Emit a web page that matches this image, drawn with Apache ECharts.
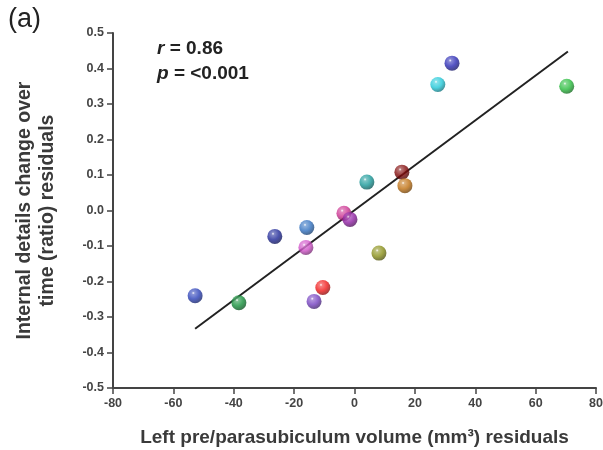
<!DOCTYPE html>
<html><head><meta charset="utf-8">
<script src="https://cdn.jsdelivr.net/npm/echarts@6/dist/echarts.min.js"></script>
<style>html,body{margin:0;padding:0;background:#fff}#c{width:603px;height:450px}</style>
</head><body><div id="c"></div>
<script>
var xValues = [-52.8, -38.3, -26.4, -15.8, -16.1, -10.5, -13.4, -3.5, -1.5, 8.1, 4.1, 15.7, 16.7, 27.6, 32.3, 70.3];
var yValues = [-0.24, -0.26, -0.073, -0.048, -0.104, -0.217, -0.256, -0.008, -0.025, -0.12, 0.08, 0.108, 0.07, 0.355, 0.415, 0.35];
var pointColors = ['#2a40b8','#14903a','#1f2898','#3070c0','#d050c8','#f01818','#7440c0','#cc3090','#9020a4','#8a9018','#189898','#800808','#c07010','#20c8d8','#2a2ab4','#28bc3c'];
var fitX = [-52.8, 70.7];
var fitY = [-0.333, 0.448];
var xTicks = [-80, -60, -40, -20, 0, 20, 40, 60, 80];
var yTicks = [-0.5, -0.4, -0.3, -0.2, -0.1, 0.0, 0.1, 0.2, 0.3, 0.4, 0.5];

function lighten(hex, f){
  var n=parseInt(hex.slice(1),16),r=n>>16,g=(n>>8)&255,b=n&255;
  r=Math.round(r+(255-r)*f);g=Math.round(g+(255-g)*f);b=Math.round(b+(255-b)*f);
  return 'rgb('+r+','+g+','+b+')';
}
function darken(hex, f){
  var n=parseInt(hex.slice(1),16),r=n>>16,g=(n>>8)&255,b=n&255;
  return 'rgb('+Math.round(r*f)+','+Math.round(g*f)+','+Math.round(b*f)+')';
}
var pts = xValues.map(function(x,i){
  var c = pointColors[i];
  return {value:[x,yValues[i]], itemStyle:{color:{type:'radial',x:0.38,y:0.32,r:0.72,colorStops:[
    {offset:0,color:'#ffffff'},{offset:0.14,color:lighten(c,0.3)},{offset:0.55,color:c},{offset:1,color:darken(c,0.55)}]}}};
});
var fit = fitX.map(function(x,i){return [x,fitY[i]];});

var chart = echarts.init(document.getElementById('c'));
var FF = 'Liberation Sans, Arial, sans-serif';
var axisFont = {fontFamily:FF, fontWeight:'bold', color:'#444', fontSize:12.5};
chart.setOption({
  animation:false,
  grid:{left:113, right:7, top:33, bottom:62, containLabel:false, outerBoundsMode:'none'},
  xAxis:{type:'value', min:xTicks[0], max:xTicks[xTicks.length-1], interval:20,
    axisLine:{onZero:false, lineStyle:{color:'#444', width:2}},
    axisTick:{show:true, length:6, lineStyle:{color:'#444', width:1.5}},
    splitLine:{show:false},
    axisLabel:Object.assign({margin:9}, axisFont),
    name:'Left pre/parasubiculum volume (mm³) residuals', nameLocation:'middle', nameGap:40,
    nameTextStyle:{fontFamily:FF, fontWeight:'bold', color:'#3a3a3a', fontSize:19}
  },
  yAxis:{type:'value', min:yTicks[0], max:yTicks[yTicks.length-1], interval:0.1,
    axisLine:{onZero:false, lineStyle:{color:'#444', width:2}},
    axisTick:{show:true, length:6, lineStyle:{color:'#444', width:1.5}},
    splitLine:{show:false},
    axisLabel:Object.assign({margin:9, formatter:function(v){return v.toFixed(1);}}, axisFont),
    name:'Internal details change over\ntime (ratio) residuals', nameLocation:'middle', nameGap:54,
    nameTextStyle:{fontFamily:FF, fontWeight:'bold', color:'#3a3a3a', fontSize:19.5, lineHeight:23}
  },
  graphic:[
    {type:'text', left:8, top:6, style:{text:'(a)', font:'27px Liberation Sans, Arial, sans-serif', fill:'#222'}},
    {type:'text', left:157, top:39, style:{rich:{i:{fontStyle:'italic', fontWeight:'bold', fontSize:19, fontFamily:FF, fill:'#222', lineHeight:25}, b:{fontWeight:'bold', fontSize:19, fontFamily:FF, fill:'#222', lineHeight:25}}, text:'{i|r}{b| = 0.86}\n{i|p}{b| = <0.001}'}}
  ],
  series:[
    {type:'line', data:fit, symbol:'none', lineStyle:{color:'#222', width:2}, z:2},
    {type:'scatter', data:pts, symbolSize:15, z:3}
  ]
});
</script></body></html>
